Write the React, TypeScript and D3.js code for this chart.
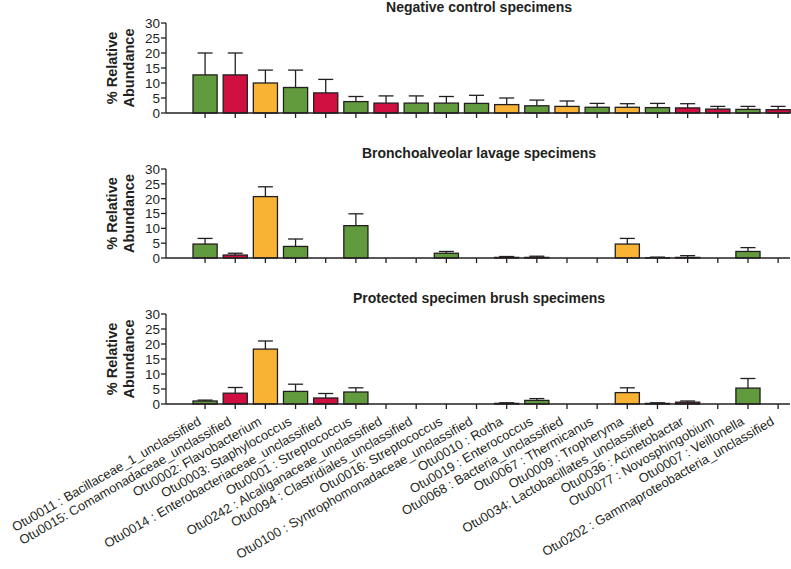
import React from "react";
import * as d3 from "d3";

const categories = [
  "Otu0011 : Bacillaceae_1_unclassified",
  "Otu0015: Comamonadaceae_unclassified",
  "Otu0002: Flavobacterium",
  "Otu0003: Staphylococcus",
  "Otu0014 : Enterobacteriaceae_unclassified",
  "Otu0001 : Streptococcus",
  "Otu0242 : Alcaliganaceae_unclassified",
  "Otu0094 : Clastridiales_unclassified",
  "Otu0016: Streptococcus",
  "Otu0100 : Syntrophomonadaceae_unclassified",
  "Otu0010 : Rotha",
  "Otu0019 : Enterococcus",
  "Otu0068 : Bacteria_unclassified",
  "Otu0067 : Thermicanus",
  "Otu0009 : Tropheryma",
  "Otu0034: Lactobacillates_unclassified",
  "Otu0036 : Acinetobactar",
  "Otu0077 : Novosphingobium",
  "Otu0007 : Veillonella",
  "Otu0202 : Gammaproteobacteria_unclassified",
];

// g = green, r = red, o = orange
const groups = ["g","r","o","g","r","g","r","g","g","g","o","g","o","g","o","g","r","r","g","r"];

const panelTitles = [
  "Negative control specimens",
  "Bronchoalveolar lavage specimens",
  "Protected specimen brush specimens",
];

const negValues = [12.7, 12.7, 10, 8.5, 6.7, 3.8, 3.3, 3.3, 3.3, 3.2, 2.8, 2.4, 2.2, 1.9, 1.9, 1.8, 1.7, 1.3, 1.2, 1.1];
const negErrTop = [20, 20, 14.3, 14.3, 11.2, 5.5, 5.7, 5.7, 5.5, 5.9, 5.0, 4.3, 4.0, 3.2, 3.1, 3.2, 3.1, 2.2, 2.2, 2.2];

const balValues = [4.7, 1.0, 20.7, 3.9, 0, 10.9, 0, 0, 1.6, 0, 0.2, 0.2, 0, 0, 4.7, 0.1, 0.2, 0, 2.2, 0];
const balErrTop = [6.6, 1.6, 24, 6.4, 0, 14.9, 0, 0, 2.2, 0, 0.5, 0.6, 0, 0, 6.6, 0.3, 0.8, 0, 3.5, 0];

const psbValues = [1.0, 3.6, 18.3, 4.2, 2.0, 4.0, 0, 0, 0, 0, 0.2, 1.2, 0, 0, 3.8, 0.2, 0.6, 0, 5.3, 0];
const psbErrTop = [1.3, 5.5, 21, 6.6, 3.5, 5.4, 0, 0, 0, 0, 0.4, 1.8, 0, 0, 5.4, 0.4, 1.0, 0, 8.5, 0];

const yTicks = [0, 5, 10, 15, 20, 25, 30];

const colorMap: Record<string, string> = { g: "#629b3d", r: "#cf0f3f", o: "#f8b234" };

const panels = [
  { title: panelTitles[0], values: negValues, err: negErrTop, top: 23, zero: 113 },
  { title: panelTitles[1], values: balValues, err: balErrTop, top: 169, zero: 258 },
  { title: panelTitles[2], values: psbValues, err: psbErrTop, top: 314, zero: 404 },
];

const ink = "#231f20";
const FONT = "'Liberation Sans', Arial, Helvetica, sans-serif";

export default function App() {
  const axisX = 166;
  const axisEnd = 790;
  const x = d3.scaleBand<string>().domain(categories).range([190, 793.2]).paddingInner(0.2).paddingOuter(0.1);
  const bw = x.bandwidth();
  const center = (c: string) => (x(c) as number) + bw / 2;

  return (
    <svg width={791} height={569} style={{ position: "absolute", left: 0, top: 0, background: "#fff" }} fontFamily={FONT}>
      {panels.map((p, pi) => {
        const y = d3.scaleLinear().domain([0, 30]).range([p.zero, p.top]);
        return (
          <g key={pi}>
            <text x={479} y={p.top - 11} textAnchor="middle" fontWeight="bold" fontSize={14} fill={ink}>{p.title}</text>
            <g transform={`translate(${121},${(p.top + p.zero) / 2}) rotate(-90)`}>
              <text x={0} y={-4} textAnchor="middle" fontWeight="bold" fontSize={14.5} fill={ink}>% Relative</text>
              <text x={0} y={13} textAnchor="middle" fontWeight="bold" fontSize={14.5} fill={ink}>Abundance</text>
            </g>
            {/* y axis */}
            <line x1={axisX} x2={axisX} y1={y(30)} y2={y(0)} stroke={ink} strokeWidth={1.3} />
            {yTicks.map((t) => (
              <g key={t}>
                <line x1={axisX - 5} x2={axisX} y1={y(t)} y2={y(t)} stroke={ink} strokeWidth={1.3} />
                <text x={axisX - 6} y={y(t)} dy="0.36em" textAnchor="end" fontSize={13.5} fill={ink}>{t}</text>
              </g>
            ))}
            {/* bars */}
            {categories.map((c, i) => {
              const v = p.values[i];
              if (v <= 0) return null;
              const cx = center(c);
              const e = p.err[i];
              return (
                <g key={c}>
                  {e > v && (
                    <>
                      <line x1={cx} x2={cx} y1={y(v)} y2={y(e)} stroke={ink} strokeWidth={1.3} />
                      <line x1={cx - 7.5} x2={cx + 7.5} y1={y(e)} y2={y(e)} stroke={ink} strokeWidth={1.3} />
                    </>
                  )}
                  <rect x={x(c)} y={y(v)} width={bw} height={y(0) - y(v)} fill={colorMap[groups[i]]} stroke={ink} strokeWidth={1.3} />
                </g>
              );
            })}
            {/* x axis */}
            <line x1={axisX} x2={axisEnd} y1={y(0)} y2={y(0)} stroke={ink} strokeWidth={1.3} />
            {categories.map((c) => (
              <line key={c} x1={center(c)} x2={center(c)} y1={y(0)} y2={y(0) + 5} stroke={ink} strokeWidth={1.3} />
            ))}
            {pi === 2 &&
              categories.map((c) => (
                <text
                  key={c}
                  transform={`translate(${center(c) - 3},${y(0) + 20}) rotate(-30)`}
                  textAnchor="end"
                  fontSize={13}
                  fill={ink}
                >
                  {c}
                </text>
              ))}
          </g>
        );
      })}
    </svg>
  );
}
